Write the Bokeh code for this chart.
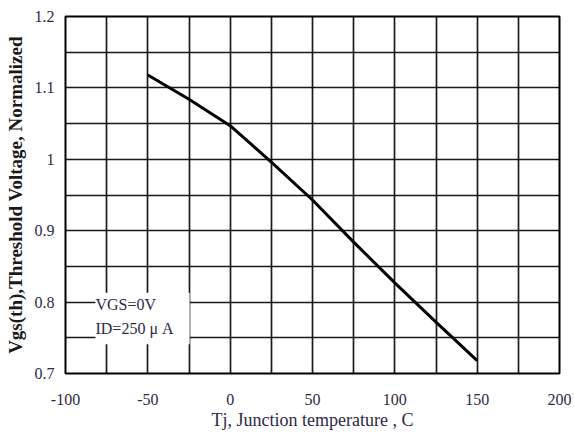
from bokeh.plotting import figure
from bokeh.models import FixedTicker, BoxAnnotation, Label, Range1d
from bokeh.embed import file_html
from bokeh.resources import INLINE

temp_c = [-50, -25, 0, 25, 50, 75, 100, 125, 150]
vth_norm = [1.118, 1.084, 1.047, 0.996, 0.943, 0.884, 0.827, 0.772, 0.718]

x_ticks = [-100, -50, 0, 50, 100, 150, 200]
x_tick_labels = ["-100", "-50", "0", "50", "100", "150", "200"]
y_ticks = [0.7, 0.8, 0.9, 1.0, 1.1, 1.2]
y_tick_labels = ["0.7", "0.8", "0.9", "1", "1.1", "1.2"]
x_grid = [-75, -50, -25, 0, 25, 50, 75, 100, 125, 150, 175]
y_grid = [0.75, 0.8, 0.85, 0.9, 0.95, 1.0, 1.05, 1.1, 1.15]
note_lines = ["VGS=0V", "ID=250 \u03bc A"]

SERIF = "Liberation Serif"
TXT = "#2e2a45"

p = figure(width=574, height=435, output_backend="svg", toolbar_location=None,
           x_range=Range1d(-100, 200), y_range=Range1d(0.7, 1.2),
           min_border_left=65, min_border_right=15, min_border_top=16, min_border_bottom=62)
p.background_fill_color = "white"
p.border_fill_color = "white"
p.outline_line_color = "black"
p.outline_line_width = 2

p.xgrid.ticker = FixedTicker(ticks=x_grid)
p.ygrid.ticker = FixedTicker(ticks=y_grid)
for g in (p.xgrid, p.ygrid):
    g.grid_line_color = "black"
    g.grid_line_width = 1.7
    g.grid_line_alpha = 0.9

p.xaxis.ticker = FixedTicker(ticks=x_ticks)
p.yaxis.ticker = FixedTicker(ticks=y_ticks)
p.xaxis.major_label_overrides = {t: l for t, l in zip(x_ticks, x_tick_labels)}
p.yaxis.major_label_overrides = {t: l for t, l in zip(y_ticks, y_tick_labels)}
for ax in (p.xaxis, p.yaxis):
    ax.axis_line_color = None
    ax.major_tick_line_color = None
    ax.minor_tick_line_color = None
    ax.major_tick_out = 0
    ax.major_tick_in = 0
    ax.major_label_text_font = SERIF
    ax.major_label_text_font_size = "16px"
    ax.major_label_text_color = TXT
    ax.axis_label_text_font = SERIF
    ax.axis_label_text_color = TXT
p.xaxis.major_label_standoff = 20
p.yaxis.major_label_standoff = 11

p.xaxis.axis_label = "Tj, Junction temperature , C"
p.xaxis.axis_label_text_font_size = "18px"
p.xaxis.axis_label_text_font_style = "normal"
p.xaxis.axis_label_standoff = 2

p.yaxis.axis_label = "Vgs(th),Threshold Voltage, Normalized"
p.yaxis.axis_label_text_font_size = "19px"
p.yaxis.axis_label_text_font_style = "bold"
p.yaxis.axis_label_text_color = "#1a1a1a"
p.yaxis.axis_label_standoff = 6

p.line(temp_c, vth_norm, line_color="black", line_width=3)

p.add_layout(BoxAnnotation(left=-81.8, right=-24.6, bottom=0.741, top=0.813,
                           fill_color="white", fill_alpha=1.0, line_color=None))
p.add_layout(Label(x=-81.8, y=0.797, text=note_lines[0], text_font=SERIF,
                   text_font_size="16px", text_color=TXT, text_baseline="middle"))
p.add_layout(Label(x=-81.8, y=0.763, text=note_lines[1], text_font=SERIF,
                   text_font_size="16px", text_color=TXT, text_baseline="middle"))

open("out.html", "w").write(file_html(p, INLINE))
